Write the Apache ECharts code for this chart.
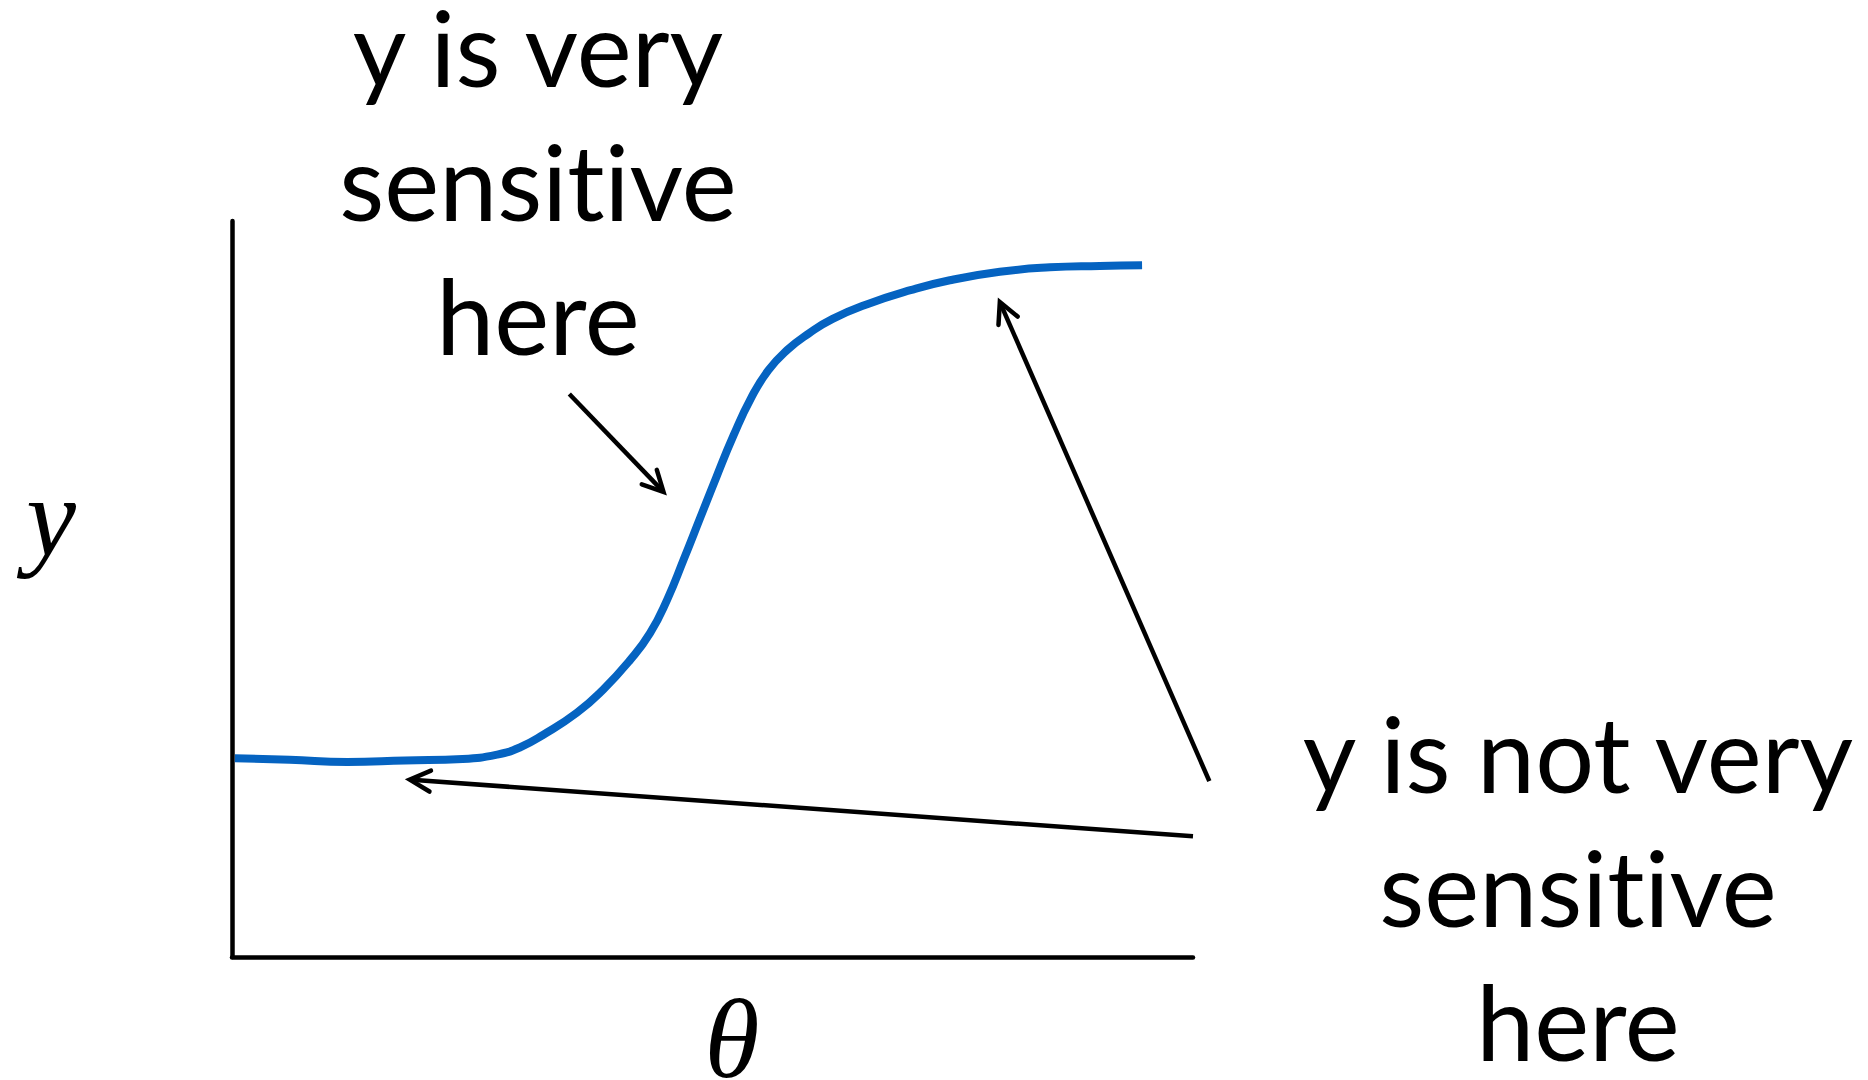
<!DOCTYPE html>
<html>
<head>
<meta charset="utf-8">
<script src="https://cdn.jsdelivr.net/npm/echarts@6/dist/echarts.min.js"></script>
<style>
  html, body { margin: 0; padding: 0; background: #ffffff; }
  #chart { width: 1868px; height: 1080px; }
  /* plain glyphs: no "ti"-style ligatures in the notes */
  #chart svg text {
    font-variant-ligatures: none !important;
    font-feature-settings: "liga" 0, "clig" 0, "calt" 0 !important;
  }
</style>
</head>
<body>
<div id="chart"></div>
<script>
// Response curve y(θ): flat, steep rise, then saturation
const thetaValues = [0.3, 6.0, 12.0, 18.0, 24.0, 27.6, 30.0, 32.4, 35.9, 38.6, 41.4, 43.5, 45.3, 47.0, 48.7, 50.4, 52.2, 54.0, 55.8, 57.8, 60.0, 62.5, 66.1, 70.6, 74.7, 79.9, 85.1, 90.3, 94.7];
const yValues     = [27.0, 26.8, 26.5, 26.7, 26.9, 27.5, 28.5, 30.2, 33.2, 36.3, 40.3, 44.0, 48.6, 54.0, 59.6, 65.2, 70.9, 75.9, 79.7, 82.5, 84.7, 86.7, 88.7, 90.6, 91.95, 93.1, 93.7, 93.9, 94.0];

// Annotation arrows, in axis units (tail -> head)
const arrowFromX = [35.1, 101.7, 100.0];
const arrowFromY = [76.5, 23.9, 16.4];
const arrowToX   = [44.9, 79.9, 18.5];
const arrowToY   = [63.2, 89.0, 24.1];

// Text
const noteSensitive    = ['y is very', 'sensitive', 'here'];
const noteNotSensitive = ['y is not very', 'sensitive', 'here'];
const yAxisTitle = 'y';
const xAxisTitle = 'θ';

const curveData = thetaValues.map((t, i) => [t, yValues[i]]);
const arrowData = arrowFromX.map((x, i) => [x, arrowFromY[i], arrowToX[i], arrowToY[i]]);

const chart = echarts.init(document.getElementById('chart'), null, { renderer: 'svg' });

const axisLine = { show: true, lineStyle: { color: '#000000', width: 4.5 } };

// one text element per note line, centred on x, lines 134px apart
const NOTE_FONT = '104px Lato';
function noteLines(lines, cx, firstCy) {
  return lines.map((t, i) => ({
    type: 'text', x: cx, y: firstCy + i * 134,
    style: { text: t, font: NOTE_FONT, fill: '#000000', align: 'center', verticalAlign: 'middle', lineHeight: 80 }
  }));
}

chart.setOption({
  animation: false,
  backgroundColor: '#ffffff',
  grid: { left: 232, top: 221, right: 675, bottom: 123 },
  xAxis: {
    type: 'value', min: 0, max: 100,
    axisLine: axisLine, axisTick: { show: false }, axisLabel: { show: false }, splitLine: { show: false }
  },
  yAxis: {
    type: 'value', min: 0, max: 100,
    axisLine: axisLine, axisTick: { show: false }, axisLabel: { show: false }, splitLine: { show: false }
  },
  series: [
    {
      type: 'line',
      data: curveData,
      smooth: 0.5,
      showSymbol: false,
      lineStyle: { color: '#0563c1', width: 8, cap: 'butt' }
    },
    {
      type: 'custom',
      clip: false,
      data: arrowData,
      encode: { x: [0, 2], y: [1, 3] },
      renderItem: function (params, api) {
        const p0 = api.coord([api.value(0), api.value(1)]);
        const p1 = api.coord([api.value(2), api.value(3)]);
        const dx = p1[0] - p0[0], dy = p1[1] - p0[1];
        const len = Math.hypot(dx, dy);
        const ux = dx / len, uy = dy / len;
        const head = 23, ang = 27 * Math.PI / 180;
        const c = Math.cos(ang), s = Math.sin(ang);
        const bx = -ux, by = -uy;
        const b1 = [p1[0] + head * (bx * c - by * s), p1[1] + head * (bx * s + by * c)];
        const b2 = [p1[0] + head * (bx * c + by * s), p1[1] + head * (-bx * s + by * c)];
        return {
          type: 'group',
          children: [
            {
              type: 'line',
              shape: { x1: p0[0], y1: p0[1], x2: p1[0] - ux * 2, y2: p1[1] - uy * 2 },
              style: { stroke: '#000000', lineWidth: 4.5 }
            },
            {
              type: 'polyline',
              shape: { points: [b1, p1, b2] },
              style: { stroke: '#000000', lineWidth: 4.5, fill: null, lineCap: 'round', lineJoin: 'miter' }
            }
          ]
        };
      }
    }
  ],
  graphic: [
    ...noteLines(noteSensitive, 538, 46),
    ...noteLines(noteNotSensitive, 1578, 752),
    {
      type: 'text', x: 51, y: 517,
      style: { text: yAxisTitle, font: 'italic 112px "Liberation Serif"', fill: '#000000', align: 'center', verticalAlign: 'middle', lineHeight: 70 }
    },
    {
      type: 'text', x: 732, y: 1039,
      style: { text: xAxisTitle, font: 'italic 112px "Liberation Serif"', fill: '#000000', align: 'center', verticalAlign: 'middle', lineHeight: 70 }
    }
  ]
});
</script>
</body>
</html>
